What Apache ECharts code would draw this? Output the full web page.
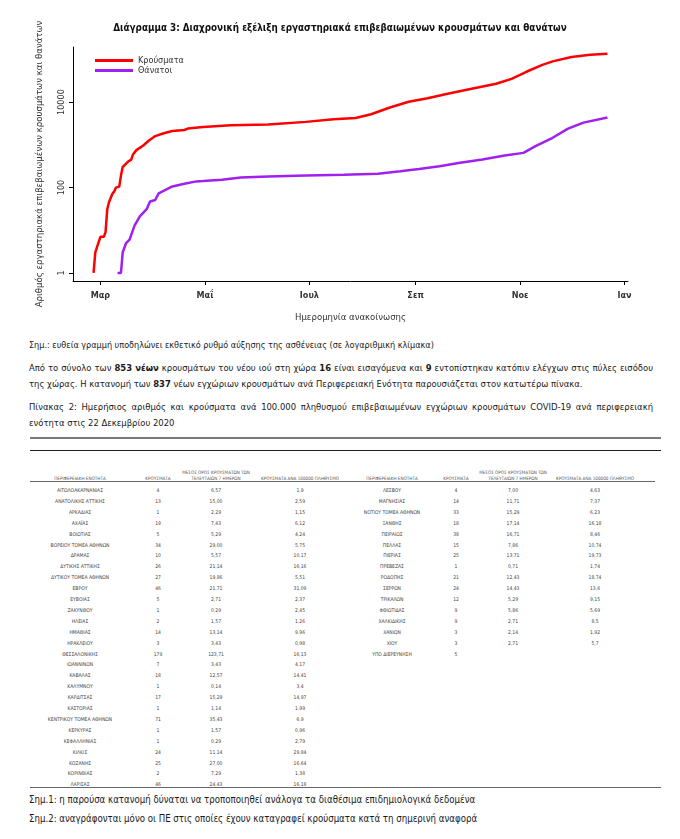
<!DOCTYPE html>
<html><head><meta charset="utf-8">
<script src="https://cdn.jsdelivr.net/npm/echarts@6/dist/echarts.min.js"></script>
<style>
body{margin:0;width:680px;height:839px;background:#fff;position:relative;overflow:hidden;font-family:"DejaVu Sans Condensed","DejaVu Sans",sans-serif;color:#1a1a1a}
#chart{position:absolute;left:0;top:0;width:680px;height:330px}
.t{position:absolute;left:29px;width:624px;font-size:9.4px;line-height:16px;white-space:nowrap}
.j{text-align:justify;text-align-last:justify}
.hl{position:absolute;left:30px;width:631px}
.cell{position:absolute;font-size:5px;line-height:6px;color:#444;text-align:center;white-space:nowrap;transform:translateX(-50%)}
.hd{position:absolute;font-size:4.6px;line-height:5.5px;color:#555;text-align:center;white-space:nowrap;transform:translateX(-50%)}
</style></head>
<body>
<div id="chart"></div>
<div class="t" style="top:337px;font-size:9px">Σημ.: ευθεία γραμμή υποδηλώνει εκθετικό ρυθμό αύξησης της ασθένειας (σε λογαριθμική κλίμακα)</div>
<div class="t j" style="top:360px">Από το σύνολο των <b>853 νέων</b> κρουσμάτων του νέου ιού στη χώρα <b>16</b> είναι εισαγόμενα και <b>9</b> εντοπίστηκαν κατόπιν ελέγχων στις πύλες εισόδου</div>
<div class="t" style="top:376px">της χώρας. Η κατανομή των <b>837</b> νέων εγχώριων κρουσμάτων ανά Περιφερειακή Ενότητα παρουσιάζεται στον κατωτέρω πίνακα.</div>
<div class="t j" style="top:399px">Πίνακας 2: Ημερήσιος αριθμός και κρούσματα ανά 100.000 πληθυσμού επιβεβαιωμένων εγχώριων κρουσμάτων COVID-19 ανά περιφερειακή</div>
<div class="t" style="top:414.5px">ενότητα στις 22 Δεκεμβρίου 2020</div>
<div class="hl" style="top:437px;border-top:2px solid #7a7a7a"></div>
<div class="hl" style="top:450px;border-top:1.5px solid #222"></div>
<div id="tables"></div>
<div class="hl" style="top:787px;border-top:1.5px solid #666"></div>
<div class="t" style="top:792px;font-size:9.6px">Σημ.1: η παρούσα κατανομή δύναται να τροποποιηθεί ανάλογα τα διαθέσιμα επιδημιολογικά δεδομένα</div>
<div class="t" style="top:811px;font-size:9.6px">Σημ.2: αναγράφονται μόνο οι ΠΕ στις οποίες έχουν καταγραφεί κρούσματα κατά τη σημερινή αναφορά</div>
<script>
// ---- chart data ----
const casesDates = ['2020-02-26','2020-02-27','2020-02-28','2020-03-01','2020-03-03','2020-03-04','2020-03-05','2020-03-06','2020-03-07','2020-03-08','2020-03-09','2020-03-10','2020-03-12','2020-03-13','2020-03-14','2020-03-15','2020-03-17','2020-03-19','2020-03-20','2020-03-22','2020-03-26','2020-03-29','2020-04-02','2020-04-07','2020-04-12','2020-04-19','2020-04-21','2020-04-30','2020-05-16','2020-06-07','2020-06-29','2020-07-15','2020-07-28','2020-08-06','2020-08-17','2020-08-28','2020-09-08','2020-09-19','2020-10-03','2020-10-18','2020-10-27','2020-11-05','2020-11-14','2020-11-20','2020-12-01','2020-12-12','2020-12-22'];
const casesValues = [1,3,4,7,7,9,31,45,50,71,80,99,105,190,300,320,400,450,590,750,960,1230,1600,1860,2100,2220,2400,2620,2860,3000,3440,3970,4260,5200,7450,10200,12300,15500,20300,26900,35000,52000,74500,89700,114000,128000,135000];
const deathsDates = ['2020-03-11','2020-03-13','2020-03-14','2020-03-16','2020-03-18','2020-03-19','2020-03-21','2020-03-24','2020-03-28','2020-03-30','2020-04-02','2020-04-04','2020-04-08','2020-04-12','2020-04-19','2020-04-26','2020-04-30','2020-05-11','2020-05-22','2020-06-07','2020-06-29','2020-07-21','2020-08-10','2020-08-23','2020-09-03','2020-09-15','2020-09-26','2020-10-10','2020-10-23','2020-11-03','2020-11-10','2020-11-20','2020-11-29','2020-12-08','2020-12-22'];
const deathsValues = [1,1,3,5,6,6,13,21,31,47,51,73,88,106,122,139,141,151,172,182,192,199,209,239,271,314,376,450,560,647,930,1460,2400,3300,4350];
const xTickDates = ['2020-03-01','2020-05-01','2020-07-01','2020-09-01','2020-11-01','2021-01-01'];
const xTickLabels = ['Μαρ','Μαΐ','Ιουλ','Σεπ','Νοε','Ιαν'];
const yTickValues = [1,100,10000];
const yTickLabels = ['1','100','10000'];
const seriesNames = ['Κρούσματα','Θάνατοι'];

// ---- table data ----
const leftRegions = ['ΑΙΤΩΛΟΑΚΑΡΝΑΝΙΑΣ','ΑΝΑΤΟΛΙΚΗΣ ΑΤΤΙΚΗΣ','ΑΡΚΑΔΙΑΣ','ΑΧΑΪΑΣ','ΒΟΙΩΤΙΑΣ','ΒΟΡΕΙΟΥ ΤΟΜΕΑ ΑΘΗΝΩΝ','ΔΡΑΜΑΣ','ΔΥΤΙΚΗΣ ΑΤΤΙΚΗΣ','ΔΥΤΙΚΟΥ ΤΟΜΕΑ ΑΘΗΝΩΝ','ΕΒΡΟΥ','ΕΥΒΟΙΑΣ','ΖΑΚΥΝΘΟΥ','ΗΛΕΙΑΣ','ΗΜΑΘΙΑΣ','ΗΡΑΚΛΕΙΟΥ','ΘΕΣΣΑΛΟΝΙΚΗΣ','ΙΩΑΝΝΙΝΩΝ','ΚΑΒΑΛΑΣ','ΚΑΛΥΜΝΟΥ','ΚΑΡΔΙΤΣΑΣ','ΚΑΣΤΟΡΙΑΣ','ΚΕΝΤΡΙΚΟΥ ΤΟΜΕΑ ΑΘΗΝΩΝ','ΚΕΡΚΥΡΑΣ','ΚΕΦΑΛΛΗΝΙΑΣ','ΚΙΛΚΙΣ','ΚΟΖΑΝΗΣ','ΚΟΡΙΝΘΙΑΣ','ΛΑΡΙΣΑΣ'];
const leftCases = ['4','13','1','19','5','34','10','26','27','46','5','1','2','14','3','179','7','18','1','17','1','71','1','1','24','25','2','46'];
const leftAvg7 = ['6,57','15,00','2,29','7,43','5,29','29,00','5,57','21,14','19,86','21,71','2,71','0,29','1,57','13,14','3,43','123,71','3,43','12,57','0,14','15,29','1,14','35,43','1,57','0,29','11,14','27,00','7,29','24,43'];
const leftPer100k = ['1,9','2,59','1,15','6,12','4,24','5,75','10,17','16,16','5,51','31,09','2,37','2,45','1,26','9,96','0,98','16,13','4,17','14,41','3,4','14,97','1,99','6,9','0,96','2,79','29,84','16,64','1,38','16,18'];
const rightRegions = ['ΛΕΣΒΟΥ','ΜΑΓΝΗΣΙΑΣ','ΝΟΤΙΟΥ ΤΟΜΕΑ ΑΘΗΝΩΝ','ΞΑΝΘΗΣ','ΠΕΙΡΑΙΩΣ','ΠΕΛΛΑΣ','ΠΙΕΡΙΑΣ','ΠΡΕΒΕΖΑΣ','ΡΟΔΟΠΗΣ','ΣΕΡΡΩΝ','ΤΡΙΚΑΛΩΝ','ΦΘΙΩΤΙΔΑΣ','ΧΑΛΚΙΔΙΚΗΣ','ΧΑΝΙΩΝ','ΧΙΟΥ','ΥΠΟ ΔΙΕΡΕΥΝΗΣΗ'];
const rightCases = ['4','14','33','18','38','15','25','1','21','24','12','9','9','3','3','5'];
const rightAvg7 = ['7,00','11,71','15,29','17,14','16,71','7,86','13,71','0,71','12,43','14,43','5,29','5,86','2,71','2,14','2,71',''];
const rightPer100k = ['4,63','7,37','6,23','16,18','8,46','10,74','19,73','1,74','18,74','13,6','9,15','5,69','8,5','1,92','5,7',''];
const headers = ['ΠΕΡΙΦΕΡΕΙΑΚΗ ΕΝΟΤΗΤΑ','ΚΡΟΥΣΜΑΤΑ','ΜΕΣΟΣ ΟΡΟΣ ΚΡΟΥΣΜΑΤΩΝ ΤΩΝ<br>ΤΕΛΕΥΤΑΙΩΝ 7 ΗΜΕΡΩΝ','ΚΡΟΥΣΜΑΤΑ ΑΝΑ 100000 ΠΛΗΘΥΣΜΟ'];

// ---- build tables ----
(function(){
  const host = document.getElementById('tables');
  function build(cols, x0, x1, regions, cases, avg, per){
    const line = document.createElement('div');
    line.style.cssText = 'position:absolute;top:481px;left:'+x0+'px;width:'+(x1-x0)+'px;border-top:1.5px solid #666';
    host.appendChild(line);
    headers.forEach((h,i)=>{
      const d = document.createElement('div');
      d.className='hd'; d.innerHTML=h;
      d.style.left = cols[i]+'px';
      d.style.top = (i===2? 470 : 475.5)+'px';
      host.appendChild(d);
    });
    const colsData=[regions,cases,avg,per];
    regions.forEach((r,ri)=>{
      colsData.forEach((arr,ci)=>{
        const d=document.createElement('div');
        d.className='cell'; d.textContent=arr[ri];
        d.style.left=cols[ci]+'px';
        d.style.top=(487+ri*10.9)+'px';
        host.appendChild(d);
      });
    });
  }
  build([80,158,216,300],30,341,leftRegions,leftCases,leftAvg7,leftPer100k);
  build([392,456,513,595],341,655,rightRegions,rightCases,rightAvg7,rightPer100k);
})();

// ---- chart ----
const chart = echarts.init(document.getElementById('chart'), null, {renderer:'canvas'});
const ts = s => Date.UTC(+s.slice(0,4), +s.slice(5,7)-1, +s.slice(8,10));
const pair = (d,v) => d.map((x,i)=>[ts(x), v[i]]);
const xTickTs = xTickDates.map(ts);
const fam = '"DejaVu Sans Condensed","DejaVu Sans",sans-serif';
chart.setOption({
  animation:false,
  title:{text:'Διάγραμμα 3: Διαχρονική εξέλιξη εργαστηριακά επιβεβαιωμένων κρουσμάτων και θανάτων',left:'center',top:18,
    textStyle:{fontFamily:fam,fontSize:9.8,fontWeight:'bold',color:'#111'}},
  legend:{orient:'vertical',left:90,top:51,itemWidth:38,itemHeight:3,itemGap:1,icon:'rect',
    textStyle:{fontFamily:fam,fontSize:9,color:'#333'},data:seriesNames},
  grid:{left:73,right:52,top:47,bottom:49},
  xAxis:{type:'value',min:ts('2020-02-14'),max:ts('2021-01-03'),
    name:'Ημερομηνία ανακοίνωσης',nameLocation:'middle',nameGap:32,
    nameTextStyle:{fontFamily:fam,fontSize:9.5,color:'#333'},
    axisLine:{lineStyle:{color:'#000',width:1}},
    axisTick:{show:true,length:4,lineStyle:{color:'#000'},customValues:xTickTs},
    axisLabel:{margin:10,fontFamily:fam,fontSize:9,fontWeight:'bold',color:'#333',
      customValues:xTickTs,
      formatter:function(v){const i=xTickTs.findIndex(t=>Math.abs(t-v)<3600000);return i>=0?xTickLabels[i]:'';}},
    splitLine:{show:false}},
  yAxis:{type:'log',logBase:10,min:0.646,max:195000,
    name:'Αριθμός εργαστηριακά επιβεβαιωμένων κρουσμάτων και θανάτων',nameLocation:'middle',nameGap:28,nameRotate:90,
    nameTextStyle:{fontFamily:fam,fontSize:9.5,color:'#333'},
    axisLine:{show:true,lineStyle:{color:'#000',width:1}},
    axisTick:{show:true,length:4,lineStyle:{color:'#000'},customValues:yTickValues},
    axisLabel:{rotate:90,margin:7,fontFamily:fam,fontSize:9,color:'#333',customValues:yTickValues,
      formatter:function(v){const i=yTickValues.findIndex(t=>Math.abs(t-v)<1e-6*t);return i>=0?yTickLabels[i]:'';}},
    splitLine:{show:false}},
  series:[
    {name:seriesNames[0],type:'line',data:pair(casesDates,casesValues),showSymbol:false,smooth:false,
     lineStyle:{color:'#ff0000',width:2.5},itemStyle:{color:'#ff0000'}},
    {name:seriesNames[1],type:'line',data:pair(deathsDates,deathsValues),showSymbol:false,smooth:false,
     lineStyle:{color:'#a020f0',width:2.5},itemStyle:{color:'#a020f0'}}
  ]
});
</script>
</body></html>
